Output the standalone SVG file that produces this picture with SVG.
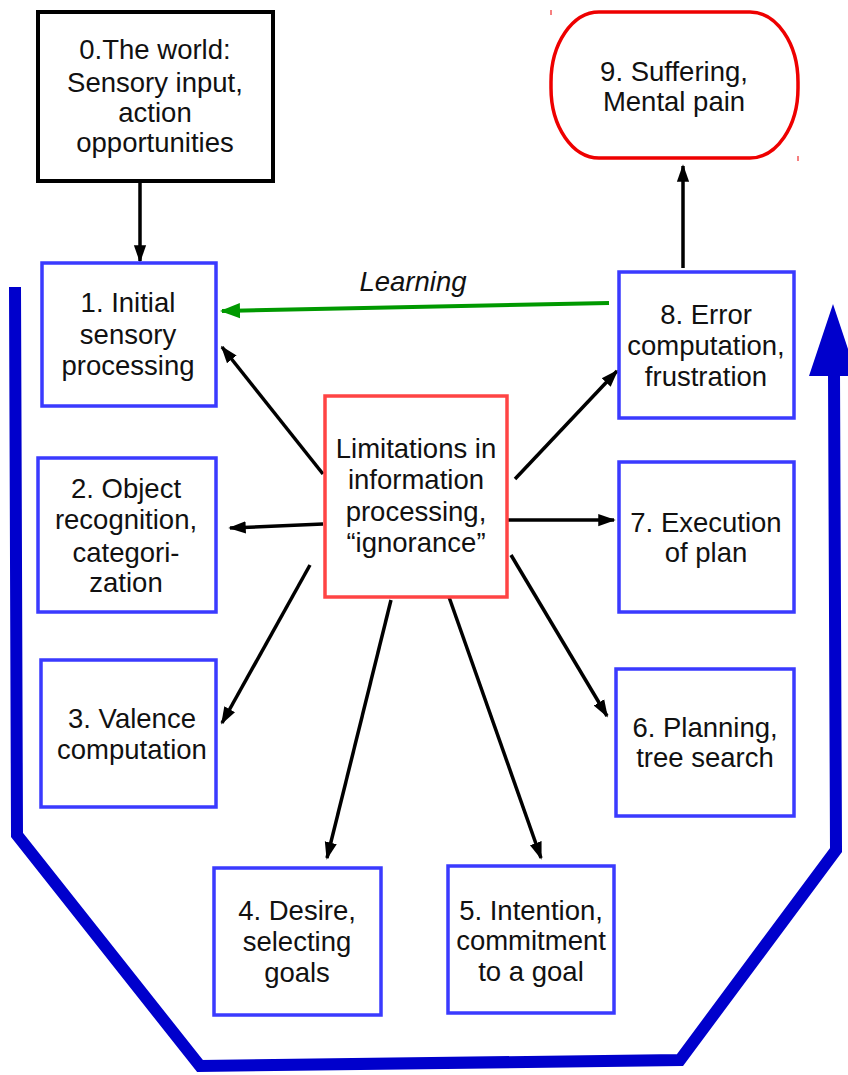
<svg xmlns="http://www.w3.org/2000/svg" width="848" height="1075" viewBox="0 0 848 1075">
<style>
text{font-family:"Liberation Sans",Arial,sans-serif;font-size:27.5px;fill:#111;text-anchor:middle}
.b{fill:#fff;stroke:#3a3aff;stroke-width:3.5}
.c{stroke:#000;stroke-width:3.5;fill:none;marker-end:url(#ah)}
</style>
<defs>
<marker id="ah" viewBox="0 0 10 10" refX="9" refY="5" markerWidth="5" markerHeight="5" orient="auto" markerUnits="strokeWidth"><path d="M0,1.5 L10,5 L0,8.5 z" fill="#000"/></marker>
<marker id="ag" viewBox="0 0 10 10" refX="9" refY="5" markerWidth="5" markerHeight="5" orient="auto" markerUnits="strokeWidth"><path d="M0,1.2 L10,5 L0,8.8 z" fill="#009900"/></marker>
</defs>
<g id="connectors">
<path d="M15,287 L17,835 L200,1066 L680,1060 L836,850 L834,372" fill="none" stroke="#0000cc" stroke-width="12" stroke-linejoin="miter"/>
<path d="M809,376 L833,304 L857,376 z" fill="#0000cc"/>
<line x1="140" y1="182" x2="140" y2="261" class="c"/>
<line x1="683" y1="268" x2="683" y2="166" class="c"/>
<line x1="609" y1="303" x2="222" y2="311" stroke="#009900" stroke-width="4" marker-end="url(#ag)"/>
<line x1="323" y1="474" x2="222" y2="347" class="c"/>
<line x1="323" y1="524" x2="230" y2="528" class="c"/>
<line x1="310" y1="565" x2="222" y2="723" class="c"/>
<line x1="391" y1="600" x2="327" y2="858" class="c"/>
<line x1="449" y1="597" x2="541" y2="858" class="c"/>
<line x1="511" y1="555" x2="607" y2="716" class="c"/>
<line x1="507" y1="520" x2="614" y2="520" class="c"/>
<line x1="515" y1="479" x2="617" y2="371" class="c"/>
<text x="413" y="291" style="font-style:italic">Learning</text>
</g>
<g id="n0"><rect x="38" y="12" width="235" height="169" fill="#fff" stroke="#000" stroke-width="4"/>
<text x="155" y="59">0.The world:</text><text x="155" y="92">Sensory input,</text><text x="155" y="122">action</text><text x="155" y="152">opportunities</text></g>
<g id="n1"><rect class="b" x="42" y="263" width="174" height="143"/>
<text x="128" y="312">1. Initial</text><text x="128" y="344">sensory</text><text x="128" y="375">processing</text></g>
<g id="n2"><rect class="b" x="38" y="458" width="178" height="154"/>
<text x="126" y="498">2. Object</text><text x="126" y="529">recognition,</text><text x="126" y="562">categori-</text><text x="126" y="592">zation</text></g>
<g id="n3"><rect class="b" x="41" y="660" width="175" height="147"/>
<text x="132" y="728">3. Valence</text><text x="132" y="759">computation</text></g>
<g id="n4"><rect class="b" x="214" y="868" width="167" height="147"/>
<text x="297" y="920">4. Desire,</text><text x="297" y="951">selecting</text><text x="297" y="982">goals</text></g>
<g id="n5"><rect class="b" x="448" y="866" width="166" height="147"/>
<text x="531" y="920">5. Intention,</text><text x="531" y="950">commitment</text><text x="531" y="981">to a goal</text></g>
<g id="n6"><rect class="b" x="616" y="669" width="178" height="147"/>
<text x="705" y="737">6. Planning,</text><text x="705" y="767">tree search</text></g>
<g id="n7"><rect class="b" x="619" y="462" width="175" height="150"/>
<text x="706" y="532">7. Execution</text><text x="706" y="562">of plan</text></g>
<g id="n8"><rect class="b" x="619" y="272" width="175" height="146"/>
<text x="706" y="324">8. Error</text><text x="706" y="355">computation,</text><text x="706" y="386">frustration</text></g>
<g id="n9"><rect x="551" y="12" width="247" height="146" rx="48" ry="70" fill="#fff" stroke="#ee0000" stroke-width="3.5"/>
<line x1="551" y1="10" x2="551" y2="15" stroke="#ee0000" stroke-width="1"/>
<line x1="798" y1="156" x2="798" y2="161" stroke="#ee0000" stroke-width="1"/>
<text x="674" y="81">9. Suffering,</text><text x="674" y="111">Mental pain</text></g>
<g id="center"><rect x="325" y="396" width="182" height="201" fill="#fff" stroke="#ff4444" stroke-width="3.5"/>
<text x="416" y="458">Limitations in</text><text x="416" y="489">information</text><text x="416" y="521">processing,</text><text x="416" y="552">“ignorance”</text></g>
</svg>
